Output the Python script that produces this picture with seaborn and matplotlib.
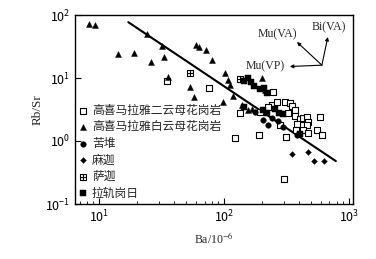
import matplotlib
matplotlib.use("Agg")
import matplotlib.pyplot as plt
from matplotlib.path import Path
import seaborn as sns
import pandas as pd

# Ba (10^-6) and Rb/Sr
two_mica_ba = [35, 76, 134, 122, 191, 302, 313, 247, 242, 265, 308, 337, 350, 325, 370, 370,
               406, 429, 461, 470, 461, 586, 384, 377, 429, 555, 608, 470, 225, 194, 281]
two_mica_rbsr = [8.96, 6.93, 2.78, 1.12, 1.24, 0.25, 1.16, 6.0, 3.73, 4.16, 4.16, 4.01, 3.6, 2.78, 3.1, 2.49,
                 2.23, 2.32, 2.4, 2.0, 1.8, 2.4, 1.86, 1.5, 1.5, 1.5, 1.24, 1.34, 3.47, 2.88, 1.8]

musc_ba = [8.3, 9.3, 14.2, 19.1, 24.2, 26.1, 31.9, 33.1, 35.6, 53.5, 57.5, 59.7, 63.1, 71.8, 80.2,
           102, 108, 112, 118, 139, 156, 167, 98, 201, 213]
musc_rbsr = [72, 69, 24, 25, 50, 17.9, 32, 21.5, 10.4, 7.2, 5.0, 33.4, 31, 28, 19.3,
             12, 9.3, 7.7, 5.2, 3.7, 3.1, 3.2, 4.2, 10, 6.5]

kudui_ba = [205, 225, 242, 270, 296, 384, 177]
kudui_rbsr = [2.15, 1.8, 2.32, 2.07, 1.67, 1.24, 2.88]

majia_ba = [350, 470, 525, 631]
majia_rbsr = [0.62, 0.67, 0.48, 0.48]

sajia_ba = [53.5, 134]
sajia_rbsr = [12.0, 9.6]

lagui_ba = [145, 156, 164, 174, 194, 209, 221, 145, 205, 221, 256, 275, 296, 406]
lagui_rbsr = [9.0, 10.0, 8.6, 7.5, 6.7, 6.9, 5.8, 3.47, 3.1, 2.78, 3.2, 2.78, 2.68, 1.29]

trend_ba = [17.1, 787]
trend_rbsr = [77, 0.48]

sns.set_style("ticks")
plt.rcParams['font.family'] = ['Noto Sans CJK SC', 'DejaVu Sans']
plt.rcParams['mathtext.fontset'] = 'stix'

# square with a cross inside (boxed plus)
boxplus = Path(
    [(-1, -1), (1, -1), (1, 1), (-1, 1), (-1, -1), (0, -1), (0, 1), (-1, 0), (1, 0)],
    [Path.MOVETO, Path.LINETO, Path.LINETO, Path.LINETO, Path.CLOSEPOLY,
     Path.MOVETO, Path.LINETO, Path.MOVETO, Path.LINETO])

fig = plt.figure(figsize=(3.76, 2.59), dpi=100)
ax = fig.add_axes([75/376, 1-204/259, 278/376, 189/259])

groups = [
    ("高喜马拉雅二云母花岗岩", two_mica_ba, two_mica_rbsr, dict(marker='s', s=14, facecolor='white', edgecolor='black', linewidth=0.8)),
    ("高喜马拉雅白云母花岗岩", musc_ba, musc_rbsr, dict(marker='^', s=18, color='black', edgecolor='black')),
    ("苦堆", kudui_ba, kudui_rbsr, dict(marker='o', s=16, color='black', edgecolor='black')),
    ("麻迦", majia_ba, majia_rbsr, dict(marker='D', s=9, color='black', edgecolor='black')),
    ("萨迦", sajia_ba, sajia_rbsr, dict(marker=boxplus, s=18, facecolor='white', edgecolor='black', linewidth=0.8)),
    ("拉轨岗日", lagui_ba, lagui_rbsr, dict(marker='s', s=16, color='black', edgecolor='black')),
]
for name, xs, ys, kw in groups:
    df = pd.DataFrame({"Ba": xs, "RbSr": ys})
    sns.scatterplot(data=df, x="Ba", y="RbSr", ax=ax, label=name, zorder=3, **kw)

sns.lineplot(x=trend_ba, y=trend_rbsr, ax=ax, color='black', linewidth=1.5, legend=False)

ax.set_xscale('log')
ax.set_yscale('log')
ax.set_xlim(6.4, 1080)
ax.set_ylim(0.1, 100)

for s in ax.spines.values():
    s.set_color('black')
    s.set_linewidth(1.0)
ax.tick_params(which='both', direction='in', colors='black', labelsize=9)
ax.tick_params(which='major', length=4)
ax.tick_params(which='minor', length=2)
ax.tick_params(axis='y', which='minor', left=False)

ax.set_xlabel("Ba/10$^{-6}$", family='Liberation Serif', fontsize=8.5, labelpad=4)
ax.set_ylabel("Rb/Sr", family='Liberation Serif', fontsize=9.5, labelpad=1)

txt = dict(family='Liberation Serif', fontsize=8.5, ha='center', va='center')
ax.text(270, 50, "Mu(VA)", **txt)
ax.text(692, 64.5, "Bi(VA)", **txt)
ax.text(213, 15.2, "Mu(VP)", **txt)
arr = dict(arrowstyle='-|>', color='black', lw=0.8, mutation_scale=5, shrinkA=0, shrinkB=0)
ax.annotate("", xy=(384, 37.3), xytext=(608, 16), arrowprops=arr)
ax.annotate("", xy=(679, 44.8), xytext=(608, 16), arrowprops=arr)
ax.annotate("", xy=(337, 15.2), xytext=(608, 16), arrowprops=arr)

leg = ax.legend(loc='upper left', bbox_to_anchor=(0.01, 0.53), frameon=False,
                fontsize=8.5, handlelength=0.8, handletextpad=0.4, borderpad=0,
                borderaxespad=0, labelspacing=0.3, markerscale=1.0)

fig.savefig("out.png", dpi=100)
